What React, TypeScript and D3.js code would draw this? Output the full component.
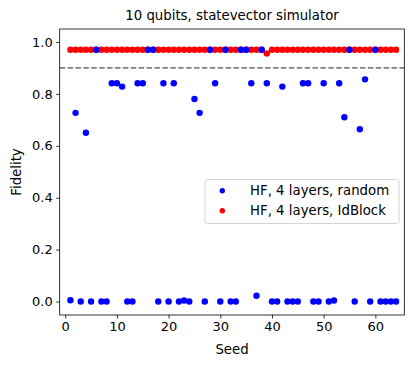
import * as d3 from "d3";
import { useRef, useEffect } from "react";

// seeds 1..64
const seeds: number[] = d3.range(1, 65);

// fidelity, HF 4 layers random init
const randomFidelity: number[] = [
  0.005, 0.727, 0.0, 0.65, 0.0, 0.97, 0.0, 0.0, 0.841, 0.841,
  0.828, 0.0, 0.0, 0.841, 0.841, 0.97, 0.97, 0.0, 0.841, 0.0,
  0.841, 0.0, 0.004, 0.0, 0.78, 0.727, 0.0, 0.97, 0.841, 0.0,
  0.97, 0.0, 0.0, 0.97, 0.97, 0.841, 0.022, 0.97, 0.841, 0.0,
  0.0, 0.828, 0.0, 0.0, 0.0, 0.841, 0.841, 0.0, 0.0, 0.841,
  0.0, 0.004, 0.841, 0.71, 0.97, 0.0, 0.664, 0.856, 0.0, 0.97,
  0.0, 0.0, 0.0, 0.0,
];

// fidelity, HF 4 layers IdBlock init
const idBlockFidelity: number[] = [
  0.97, 0.97, 0.97, 0.97, 0.97, 0.97, 0.97, 0.97, 0.97, 0.97,
  0.97, 0.97, 0.97, 0.97, 0.97, 0.97, 0.97, 0.97, 0.97, 0.97,
  0.97, 0.97, 0.97, 0.97, 0.97, 0.97, 0.97, 0.97, 0.97, 0.97,
  0.97, 0.97, 0.97, 0.97, 0.97, 0.97, 0.97, 0.97, 0.956, 0.97,
  0.97, 0.97, 0.97, 0.97, 0.97, 0.97, 0.97, 0.97, 0.97, 0.97,
  0.97, 0.97, 0.97, 0.97, 0.97, 0.97, 0.97, 0.97, 0.97, 0.97,
  0.97, 0.97, 0.97, 0.97,
];

const threshold = 0.9;
const xTicks = [0, 10, 20, 30, 40, 50, 60];
const yTicks = [0.0, 0.2, 0.4, 0.6, 0.8, 1.0];
const legendLabels = ["HF, 4 layers, random", "HF, 4 layers, IdBlock"];

const W = 415;
const H = 367;
const FONT = "'DejaVu Sans', sans-serif";

const FidelityChart = () => {
  const ref = useRef<SVGSVGElement>(null);

  useEffect(() => {
    const svg = d3.select(ref.current);
    svg.selectAll("*").remove();

    const left = 59.7, right = 404.3, top = 29, bottom = 315;

    const x = d3.scaleLinear().domain([-1.07, 65.6]).range([left, right]);
    const y = d3.scaleLinear().domain([-0.052, 1.05]).range([bottom, top]);

    svg.append("rect")
      .attr("width", W)
      .attr("height", H)
      .attr("fill", "#fff");

    // threshold line
    svg.append("line")
      .attr("x1", left)
      .attr("x2", right)
      .attr("y1", y(threshold))
      .attr("y2", y(threshold))
      .attr("stroke", "#808080")
      .attr("stroke-width", 1.8)
      .attr("stroke-dasharray", "5.5,2.4");

    // red points under, blue over
    svg.append("g")
      .selectAll("circle")
      .data(seeds)
      .join("circle")
      .attr("cx", d => x(d))
      .attr("cy", (d, i) => y(idBlockFidelity[i]))
      .attr("r", 3.2)
      .attr("fill", "#ff0000");

    svg.append("g")
      .selectAll("circle")
      .data(seeds)
      .join("circle")
      .attr("cx", d => x(d))
      .attr("cy", (d, i) => y(randomFidelity[i]))
      .attr("r", 3.2)
      .attr("fill", "#0000ff");

    // axes
    const xAxis = svg.append("g")
      .attr("transform", `translate(0,${bottom})`)
      .call(d3.axisBottom(x).tickValues(xTicks).tickSize(3.5).tickPadding(3.5).tickFormat(d3.format("d")));
    const yAxis = svg.append("g")
      .attr("transform", `translate(${left},0)`)
      .call(d3.axisLeft(y).tickValues(yTicks).tickSize(3.5).tickPadding(3.5).tickFormat(d3.format(".1f")));

    [xAxis, yAxis].forEach(g => {
      g.select(".domain").remove();
      g.selectAll("line").attr("stroke", "#000").attr("stroke-width", 0.8);
      g.selectAll("text")
        .attr("fill", "#000")
        .style("font-family", FONT)
        .style("font-size", "13px");
    });

    // frame
    svg.append("rect")
      .attr("x", left)
      .attr("y", top)
      .attr("width", right - left)
      .attr("height", bottom - top)
      .attr("fill", "none")
      .attr("stroke", "#000")
      .attr("stroke-width", 0.8);

    // labels
    svg.append("text")
      .attr("x", (left + right) / 2)
      .attr("y", 20)
      .attr("text-anchor", "middle")
      .style("font-family", FONT)
      .style("font-size", "13.3px")
      .text("10 qubits, statevector simulator");

    svg.append("text")
      .attr("x", (left + right) / 2)
      .attr("y", 354)
      .attr("text-anchor", "middle")
      .style("font-family", FONT)
      .style("font-size", "13.3px")
      .text("Seed");

    svg.append("text")
      .attr("transform", `translate(21,${(top + bottom) / 2}) rotate(-90)`)
      .attr("text-anchor", "middle")
      .style("font-family", FONT)
      .style("font-size", "13.3px")
      .text("Fidelity");

    // legend
    const lg = svg.append("g").attr("transform", "translate(205,179.5)");
    lg.append("rect")
      .attr("width", 194)
      .attr("height", 44)
      .attr("rx", 2.5)
      .attr("fill", "#fff")
      .attr("fill-opacity", 0.8)
      .attr("stroke", "#cccccc")
      .attr("stroke-width", 0.8);

    const colors = ["#0000ff", "#ff0000"];
    legendLabels.forEach((lab, i) => {
      lg.append("circle")
        .attr("cx", 17.3)
        .attr("cy", 11.2 + i * 20)
        .attr("r", 2.7)
        .attr("fill", colors[i]);
      lg.append("text")
        .attr("x", 45)
        .attr("y", 11.2 + i * 20)
        .attr("dy", "0.36em")
        .style("font-family", FONT)
        .style("font-size", "13.3px")
        .text(lab);
    });
  }, []);

  return <svg ref={ref} width={W} height={H} style={{ display: "block" }} />;
};

export default function App() {
  return (
    <div style={{ margin: -8 }}>
      <FidelityChart />
    </div>
  );
}
